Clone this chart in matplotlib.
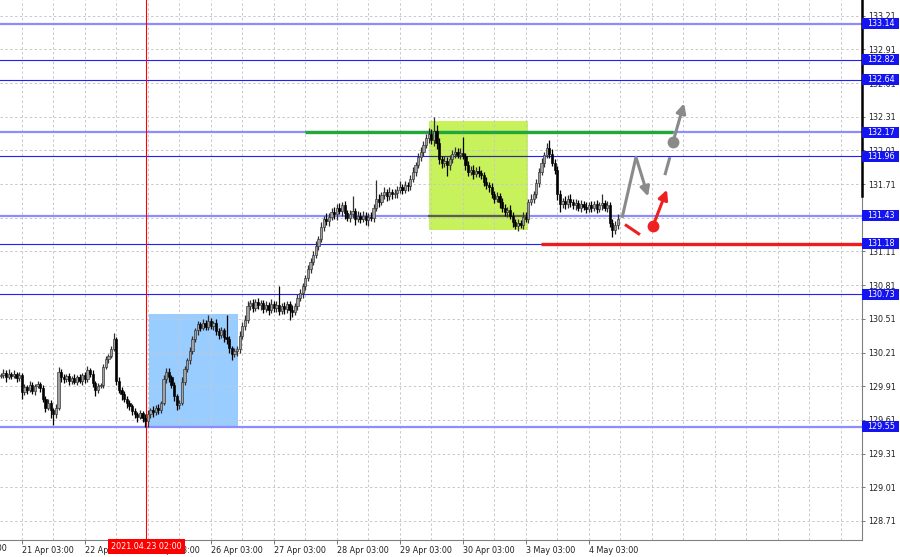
import matplotlib
matplotlib.use("Agg")
import matplotlib.pyplot as plt
import matplotlib.transforms as mtransforms
from matplotlib.patches import Rectangle

# H1 closes, one per bar (bar 8 = 21 Apr 03:00)
closes = [
    130.01, 130.03, 129.99, 130.02, 130.00, 130.02, 129.98, 130.01, 129.86, 129.90,
    129.88, 129.92, 129.87, 129.91, 129.93, 129.89, 129.80, 129.72, 129.76, 129.70,
    129.66, 129.72, 130.04, 129.99, 129.97, 130.00, 129.96, 129.98, 129.95, 129.99,
    129.96, 130.01, 129.97, 130.05, 130.02, 129.94, 129.88, 129.91, 129.92, 130.08,
    130.15, 130.18, 130.24, 130.33, 129.96, 129.88, 129.84, 129.80, 129.76, 129.73,
    129.69, 129.66, 129.64, 129.67, 129.63, 129.60, 129.66, 129.70, 129.68, 129.72,
    129.70, 129.76, 129.97, 130.04, 129.99, 129.92, 129.82, 129.74, 129.76, 129.95,
    130.06, 130.14, 130.22, 130.33, 130.41, 130.46, 130.43, 130.47, 130.44, 130.49,
    130.45, 130.47, 130.40, 130.37, 130.41, 130.35, 130.33, 130.25, 130.20, 130.22,
    130.24, 130.36, 130.45, 130.50, 130.62, 130.65, 130.61, 130.66, 130.63, 130.65,
    130.60, 130.63, 130.59, 130.64, 130.61, 130.63, 130.58, 130.62, 130.60, 130.64,
    130.59, 130.57, 130.62, 130.70, 130.74, 130.80, 130.87, 130.95, 131.02, 131.08,
    131.16, 131.22, 131.33, 131.40, 131.38, 131.42, 131.46, 131.44, 131.50, 131.47,
    131.52, 131.45, 131.41, 131.44, 131.47, 131.40, 131.43, 131.40, 131.43, 131.39,
    131.42, 131.41, 131.50, 131.58, 131.55, 131.61, 131.64, 131.60, 131.64, 131.62,
    131.63, 131.66, 131.68, 131.66, 131.70, 131.69, 131.76, 131.82, 131.88, 131.95,
    132.00, 132.06, 132.12, 132.16, 132.10, 132.18, 132.08, 131.93, 131.90, 131.92,
    131.88, 131.93, 131.98, 132.00, 131.97, 131.99, 131.96, 131.88, 131.82, 131.84,
    131.80, 131.83, 131.81, 131.79, 131.73, 131.70, 131.68, 131.62, 131.58, 131.60,
    131.55, 131.50, 131.46, 131.48, 131.43, 131.37, 131.34, 131.36, 131.35, 131.42,
    131.40, 131.55, 131.58, 131.62, 131.72, 131.82, 131.90, 131.97, 132.03, 131.98,
    131.90, 131.84, 131.62, 131.53, 131.56, 131.53, 131.58, 131.55, 131.52, 131.54,
    131.50, 131.53, 131.51, 131.49, 131.52, 131.50, 131.53, 131.49, 131.52, 131.54,
    131.50, 131.52, 131.36, 131.30, 131.35, 131.40,
]
first_open = 130.00

# wick lengths in pips above / below the body
upper_wick = [
    2, 3, 2, 4, 2, 3, 2, 3, 2, 3,   2, 4, 3, 2, 3, 2, 3, 2, 4, 3,
    2, 3, 4, 2, 3, 2, 3, 2, 4, 2,   3, 2, 3, 4, 2, 3, 2, 3, 2, 3,
    3, 2, 3, 5, 2, 3, 2, 3, 2, 3,   2, 3, 2, 3, 2, 3, 4, 2, 3, 2,
    3, 2, 4, 3, 3, 2, 3, 2, 3, 4,   3, 2, 4, 3, 2, 3, 2, 4, 3, 5,
    3, 2, 4, 3, 3, 2, 19, 3, 2, 3,  3, 4, 3, 4, 5, 3, 4, 3, 4, 3,
    3, 4, 3, 5, 3, 4, 17, 3, 4, 3,  3, 4, 3, 3, 4, 3, 3, 4, 3, 3,
    4, 3, 4, 3, 5, 3, 4, 5, 3, 4,   3, 4, 3, 4, 13, 3, 4, 3, 4, 3,
    3, 4, 3, 17, 4, 3, 4, 3, 4, 3,  4, 3, 6, 3, 4, 3, 3, 4, 3, 4,
    4, 3, 4, 5, 4, 13, 6, 4, 3, 4,  3, 4, 3, 4, 3, 4, 14, 3, 4, 3,
    4, 3, 4, 3, 3, 4, 3, 4, 3, 4,   3, 4, 3, 3, 4, 3, 3, 4, 3, 4,
    4, 3, 4, 3, 4, 3, 4, 3, 5, 7,   4, 3, 3, 4, 3, 4, 3, 4, 3, 4,
    3, 4, 3, 4, 3, 4, 3, 4, 3, 8,   3, 4, 3, 4, 3, 4,
]
lower_wick = [
    2, 3, 4, 2, 3, 2, 3, 2, 6, 3,   4, 2, 3, 4, 2, 3, 3, 4, 2, 7,
    10, 3, 2, 4, 3, 2, 4, 3, 2, 3,  2, 4, 3, 2, 3, 4, 6, 3, 2, 3,
    2, 3, 2, 2, 4, 3, 5, 3, 4, 3,   4, 3, 5, 2, 4, 5, 5, 3, 4, 3,
    4, 3, 2, 3, 4, 3, 4, 4, 3, 2,   3, 2, 3, 2, 3, 4, 3, 2, 3, 3,
    3, 4, 3, 4, 3, 5, 4, 4, 6, 3,   4, 3, 3, 4, 3, 3, 4, 3, 3, 4,
    4, 3, 5, 3, 4, 4, 4, 3, 5, 4,   9, 4, 3, 3, 3, 4, 3, 2, 3, 3,
    3, 4, 3, 4, 3, 4, 3, 4, 5, 3,   4, 5, 3, 4, 3, 5, 3, 4, 3, 4,
    5, 3, 4, 3, 4, 3, 3, 4, 3, 4,   3, 4, 3, 4, 3, 4, 3, 3, 4, 3,
    3, 4, 3, 4, 3, 5, 6, 4, 5, 4,   10, 4, 3, 4, 3, 4, 3, 4, 4, 3,
    4, 3, 4, 3, 4, 3, 4, 3, 4, 3,   5, 4, 3, 4, 3, 4, 3, 5, 3, 4,
    3, 4, 3, 4, 3, 4, 3, 4, 3, 4,   3, 4, 5, 7, 3, 4, 3, 4, 3, 4,
    3, 4, 3, 4, 3, 4, 3, 4, 3, 4,   3, 4, 3, 6, 3, 4,
]

day_bars = [-16, 8, 32, 56, 80, 104, 128, 152, 176, 200, 224]
day_labels = ["20 Apr 03:00", "21 Apr 03:00", "22 Apr 03:00", "23 Apr 03:00",
              "26 Apr 03:00", "27 Apr 03:00", "28 Apr 03:00", "29 Apr 03:00",
              "30 Apr 03:00", "3 May 03:00", "4 May 03:00"]
price_ticks = [128.71, 129.01, 129.31, 129.61, 129.91, 130.21, 130.51, 130.81,
               131.11, 131.41, 131.71, 132.01, 132.31, 132.61, 132.91, 133.21]

level_prices = [133.14, 132.82, 132.64, 132.17, 131.96, 131.43, 131.18, 130.73, 129.55]
level_light = [True, False, False, True, False, True, False, False, True]

marker_bar = 55.5
marker_label = "2021.04.23 02:00"

# zones (bar range, price range)
blue_zone = (56.5, 90.5, 129.54, 130.55)
green_zone = (163.0, 200.8, 131.30, 132.27)
green_level = (116, 256, 132.17)
red_level = (205.7, 131.18)

# forecast sketch (bar, price)
gray_zigzag_bars = [236.7, 242.0, 246.6]
gray_zigzag_prices = [131.41, 131.95, 131.60]
gray_dash_bars = [253.0, 254.9]
gray_dash_prices = [131.79, 131.95]
gray_dot = (256.1, 132.085)
gray_tip = (260.3, 132.43)
red_dash_bars = [237.8, 243.5]
red_dash_prices = [131.35, 131.26]
red_dot = (248.5, 131.34)
red_tip = (253.8, 131.66)

X_MIN, X_MAX = -0.3, 328.1
Y_MIN, Y_MAX = 128.54, 133.35

fig = plt.figure(figsize=(9, 5.57), dpi=100)
ax = fig.add_axes([0, 17 / 557, 862 / 900, 540 / 557])
ax.set_xlim(X_MIN, X_MAX)
ax.set_ylim(Y_MIN, Y_MAX)

font = "DejaVu Sans"
fs = 5.8

# dashed grid
grid_kw = dict(color="#c8c8c8", lw=0.7, ls=(0, (2.5, 2.5)), zorder=0.8)
for b in range(-4, 330, 12):
    ax.axvline(b, **grid_kw)
for p in price_ticks:
    ax.axhline(p, **grid_kw)

# zones
x0, x1, p0, p1 = blue_zone
ax.add_patch(Rectangle((x0, p0), x1 - x0, p1 - p0, color="#99ccff", zorder=0.5, lw=0))
x0, x1, p0, p1 = green_zone
ax.add_patch(Rectangle((x0, p0), x1 - x0, p1 - p0, color="#c8f25c", zorder=0.5, lw=0))

# horizontal levels
for p, light in zip(level_prices, level_light):
    if light:
        ax.axhline(p, color="#8c8cff", lw=1.6, zorder=1)
    else:
        ax.axhline(p, color="#2020ff", lw=0.8, zorder=1)
# levels look darker where they cross the green zone
ax.plot([green_zone[0], green_zone[1]], [131.96, 131.96], color="#30308a", lw=0.8, zorder=1.1)
ax.plot([green_zone[0], green_zone[1]], [131.43, 131.43], color="#5a6040", lw=1.6, zorder=1.1)

ax.plot([green_level[0], green_level[1]], [green_level[2]] * 2, color="#22a838", lw=2.4,
        zorder=1.2, solid_capstyle="butt")
ax.plot([red_level[0], X_MAX], [red_level[1]] * 2, color="#ee1c1c", lw=2.4, zorder=1.2,
        solid_capstyle="butt")

# vertical marker
ax.axvline(marker_bar, color="#ff0000", lw=0.8, zorder=1.3)

# candles
opens = [first_open] + closes[:-1]
for i, (o, c) in enumerate(zip(opens, closes)):
    top = max(o, c) + upper_wick[i] / 100
    bot = min(o, c) - lower_wick[i] / 100
    bull = c >= o
    ax.vlines(i, bot, top, color="#000000" if not bull else "#303030", lw=0.9, zorder=2)
    h = max(abs(c - o), 0.008)
    ax.bar(i, h, bottom=min(o, c), width=0.85,
           color="#a0a0a0" if bull else "#000000",
           edgecolor="#303030" if bull else "#000000", lw=0.45, zorder=2.1)

# forecast sketch
gray = "#8a8a8a"
red = "#ee2020"
ax.plot(gray_zigzag_bars[:2], gray_zigzag_prices[:2], color=gray, lw=2.2, zorder=3,
        solid_capstyle="butt")
ax.annotate("", xy=(gray_zigzag_bars[2], gray_zigzag_prices[2]),
            xytext=(gray_zigzag_bars[1], gray_zigzag_prices[1]),
            arrowprops=dict(arrowstyle="-|>", color=gray, lw=2.2, mutation_scale=14,
                            shrinkA=0, shrinkB=0), zorder=3)
ax.plot(gray_dash_bars, gray_dash_prices, color=gray, lw=2.2, zorder=3, solid_capstyle="butt")
ax.plot(*gray_dot, "o", color=gray, ms=7.5, zorder=3)
ax.annotate("", xy=gray_tip, xytext=gray_dot,
            arrowprops=dict(arrowstyle="-|>", color=gray, lw=2.2, mutation_scale=14,
                            shrinkA=0, shrinkB=0), zorder=3)
ax.plot(red_dash_bars, red_dash_prices, color=red, lw=2.2, zorder=3, solid_capstyle="butt")
ax.plot(*red_dot, "o", color=red, ms=7.5, zorder=3)
ax.annotate("", xy=red_tip, xytext=red_dot,
            arrowprops=dict(arrowstyle="-|>", color=red, lw=2.2, mutation_scale=14,
                            shrinkA=0, shrinkB=0), zorder=3)

# axes styling
for side in ("left", "top"):
    ax.spines[side].set_visible(False)
ax.spines["right"].set_color("#808080")
ax.spines["bottom"].set_color("#808080")
ax.yaxis.tick_right()
ax.set_yticks(price_ticks)
ax.set_yticklabels([f"{p:.2f}" for p in price_ticks], fontsize=fs, family=font, color="#202020")
ax.tick_params(axis="y", length=2.5, width=0.6, pad=2, color="#606060")
ax.set_xticks(day_bars[1:])
ax.set_xticklabels(day_labels[1:], fontsize=fs, family=font, color="#202020")
for lab in ax.get_xticklabels():
    lab.set_ha("left")
ax.tick_params(axis="x", length=3, width=0.6, pad=1.5, color="#606060")
# label of the day that starts left of the view
xt = mtransforms.blended_transform_factory(ax.transData, ax.transAxes)
ax.text(day_bars[0] - 1.5, -0.008, day_labels[0], transform=xt, fontsize=fs, family=font,
        color="#202020", va="top", ha="left", clip_on=False)

# black part of the price scale line
yt = mtransforms.blended_transform_factory(ax.transAxes, ax.transData)
ax.plot([1, 1], [131.60, Y_MAX], transform=yt, color="black", lw=1.8, clip_on=False, zorder=5)

# level price boxes on the scale
box_w = 37 / 862
box_h = 11 * (Y_MAX - Y_MIN) / 540
for p in level_prices:
    ax.add_patch(Rectangle((1.0, p - box_h / 2), box_w, box_h, transform=yt,
                           color="#1414f0", lw=0, clip_on=False, zorder=6))
    ax.text(1.0 + 5 / 862, p, f"{p:.2f}", transform=yt, fontsize=fs, family=font,
            color="white", va="center", ha="left", clip_on=False, zorder=7)

# time marker label
ax.text(marker_bar, -0.004, marker_label, transform=xt, fontsize=fs, family=font,
        color="white", va="top", ha="center", clip_on=False, zorder=7,
        bbox=dict(boxstyle="square,pad=0.35", fc="#ff0000", ec="none"))

fig.savefig("out.png", dpi=100)
